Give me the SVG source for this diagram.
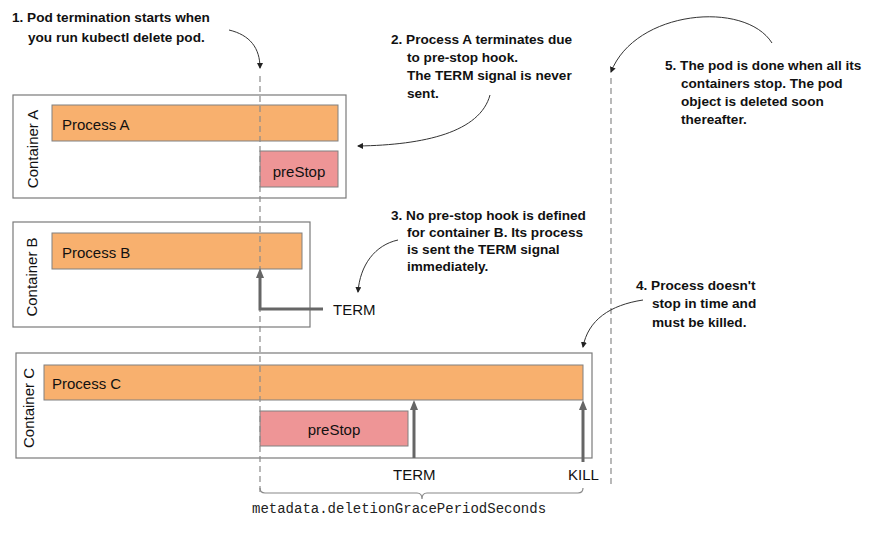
<svg xmlns="http://www.w3.org/2000/svg" width="877" height="533" viewBox="0 0 877 533">
<defs>
<style>
.cont{fill:#fff;stroke:#7a7a7a;stroke-width:1.2}
.proc{fill:#F8B06E;stroke:#808080;stroke-width:1}
.pre{fill:#EE9596;stroke:#808080;stroke-width:1}
.lbl{font-family:"Liberation Sans",Arial,sans-serif;font-size:15px;fill:#111}
.ann{font-family:"Liberation Sans",Arial,sans-serif;font-size:13.6px;font-weight:bold;fill:#111}
.mono{font-family:"Liberation Mono","DejaVu Sans Mono",monospace;font-size:14px;fill:#222}
.dash{stroke:#8a8a8a;stroke-width:1.2;stroke-dasharray:6 4;fill:none}
.sig{stroke:#666;stroke-width:3;fill:none}
.note{stroke:#333;stroke-width:1;fill:none}
</style>
<marker id="big" viewBox="0 0 10 8" refX="0" refY="4" markerWidth="10" markerHeight="8" markerUnits="userSpaceOnUse" orient="auto">
<path d="M0,0 L10,4 L0,8 Z" fill="#666"/>
</marker>
<marker id="small" viewBox="0 0 6 6" refX="5" refY="3" markerWidth="6" markerHeight="6" markerUnits="userSpaceOnUse" orient="auto">
<path d="M0,0 L6,3 L0,6 Z" fill="#222"/>
</marker>
</defs>
<rect width="877" height="533" fill="#fff"/>

<g id="containerA">
<rect class="cont" x="13" y="95" width="333" height="103"/>
<text class="lbl" transform="translate(38,149) rotate(-90)" text-anchor="middle">Container A</text>
<rect class="proc" x="52" y="105" width="286" height="36"/>
<text class="lbl" x="62" y="130">Process A</text>
<rect class="pre" x="260" y="151" width="78" height="36"/>
<text class="lbl" x="299" y="177" text-anchor="middle">preStop</text>
</g>

<g id="containerB">
<rect class="cont" x="13" y="222" width="297" height="105"/>
<text class="lbl" transform="translate(37,277) rotate(-90)" text-anchor="middle">Container B</text>
<rect class="proc" x="52" y="233" width="250" height="36"/>
<text class="lbl" x="62" y="258">Process B</text>
</g>

<g id="containerC">
<rect class="cont" x="16" y="353" width="576" height="105"/>
<text class="lbl" transform="translate(34,408) rotate(-90)" text-anchor="middle">Container C</text>
<rect class="proc" x="44" y="365" width="539" height="35"/>
<text class="lbl" x="52" y="389">Process C</text>
<rect class="pre" x="260" y="411" width="148" height="35"/>
<text class="lbl" x="334" y="435" text-anchor="middle">preStop</text>
</g>

<g id="connectors">
<path class="dash" d="M260,76 V492"/>
<path class="dash" d="M611,78 V486"/>
<path class="sig" d="M323,309 H260 V278" marker-end="url(#big)"/>
<path class="sig" d="M414,458 V410" marker-end="url(#big)"/>
<path class="sig" d="M583,462 V410" marker-end="url(#big)"/>
<path class="note" d="M229,30 C250,35 260,48 260,68" marker-end="url(#small)"/>
<path class="note" d="M490,95 C480,132 425,145 358,146" marker-end="url(#small)"/>
<path class="note" d="M398,240 C375,245 360,265 358,292" marker-end="url(#small)"/>
<path class="note" d="M643,300 C610,305 588,320 583,347" marker-end="url(#small)"/>
<path class="note" d="M772,43 C745,0 635,10 611,72" marker-end="url(#small)"/>
<path d="M260,488 Q260,493 265,493 H417 Q422,493 422,499 Q422,493 427,493 H578 Q583,493 583,488" fill="none" stroke="#888" stroke-width="1.2"/>
</g>

<g id="signals">
<text class="lbl" x="333" y="315">TERM</text>
<text class="lbl" x="393" y="480">TERM</text>
<text class="lbl" x="568" y="480">KILL</text>
<text class="mono" x="252" y="513">metadata.deletionGracePeriodSeconds</text>
</g>

<g id="note1">
<text class="ann" x="12" y="22">1. Pod termination starts when</text>
<text class="ann" x="28" y="42">you run kubectl delete pod.</text>
</g>
<g id="note2">
<text class="ann" x="391" y="44">2. Process A terminates due</text>
<text class="ann" x="407" y="62">to pre-stop hook.</text>
<text class="ann" x="407" y="80">The TERM signal is never</text>
<text class="ann" x="407" y="98">sent.</text>
</g>
<g id="note3">
<text class="ann" x="391" y="220">3. No pre-stop hook is defined</text>
<text class="ann" x="407" y="237">for container B. Its process</text>
<text class="ann" x="407" y="254">is sent the TERM signal</text>
<text class="ann" x="407" y="271">immediately.</text>
</g>
<g id="note4">
<text class="ann" x="636" y="290">4. Process doesn't</text>
<text class="ann" x="652" y="308">stop in time and</text>
<text class="ann" x="652" y="327">must be killed.</text>
</g>
<g id="note5">
<text class="ann" x="665" y="70">5. The pod is done when all its</text>
<text class="ann" x="681" y="88">containers stop. The pod</text>
<text class="ann" x="681" y="106">object is deleted soon</text>
<text class="ann" x="681" y="124">thereafter.</text>
</g>
</svg>
